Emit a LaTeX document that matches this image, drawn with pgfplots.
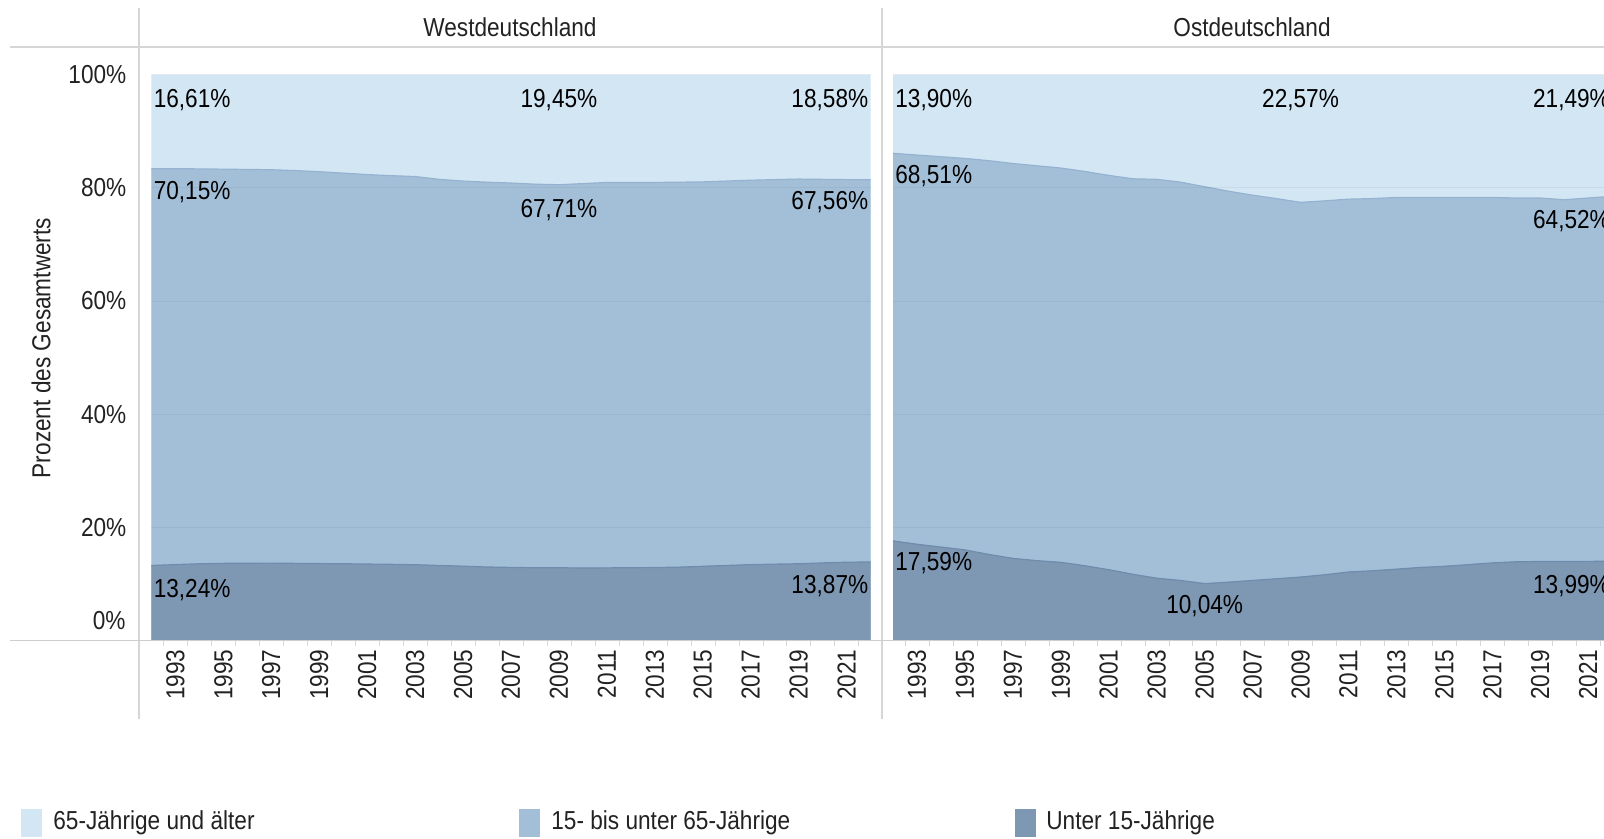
\documentclass[border=0pt]{standalone}
\usepackage{fontspec}
\setmainfont{Liberation Sans}[FakeStretch=0.87]
\usepackage{pgfplots}
\usepackage{pgfplotstable}
\pgfplotsset{compat=1.18}

\definecolor{alt}{HTML}{D3E6F4}
\definecolor{mitte}{HTML}{A3BFD8}
\definecolor{jung}{HTML}{7E97B2}
\definecolor{mitteline}{HTML}{95B3D0}
\definecolor{jungline}{HTML}{6F8CAD}
\definecolor{txt}{HTML}{222222}
\definecolor{rule}{HTML}{D6D6D6}

\newcommand{\lbl}{\fontsize{13}{15}\selectfont}

% Anteile in Prozent: U = unter 15, M = 15 bis unter 65, O = 65 und aelter
\pgfplotstableread{
year U M O
1992 13.24 70.15 16.61
1993 13.40 69.98 16.62
1994 13.55 69.80 16.65
1995 13.62 69.68 16.70
1996 13.65 69.60 16.75
1997 13.66 69.54 16.80
1998 13.62 69.43 16.95
1999 13.58 69.27 17.15
2000 13.55 69.05 17.40
2001 13.50 68.85 17.65
2002 13.45 68.70 17.85
2003 13.38 68.62 18.00
2004 13.25 68.25 18.50
2005 13.12 68.08 18.80
2006 12.98 68.02 19.00
2007 12.90 67.95 19.15
2008 12.85 67.80 19.35
2009 12.84 67.71 19.45
2010 12.80 67.95 19.25
2011 12.82 68.13 19.05
2012 12.85 68.10 19.05
2013 12.88 68.07 19.05
2014 12.95 68.05 19.00
2015 13.10 67.95 18.95
2016 13.25 67.95 18.80
2017 13.40 67.95 18.65
2018 13.48 67.97 18.55
2019 13.55 68.00 18.45
2020 13.70 67.80 18.50
2021 13.82 67.63 18.55
2022 13.87 67.55 18.58
}\west

\pgfplotstableread{
year U M O
1992 17.59 68.51 13.90
1993 17.00 68.80 14.20
1994 16.50 69.00 14.50
1995 16.00 69.20 14.80
1996 15.20 69.60 15.20
1997 14.50 69.80 15.70
1998 14.10 69.80 16.10
1999 13.80 69.70 16.50
2000 13.20 69.70 17.10
2001 12.50 69.70 17.80
2002 11.70 69.90 18.40
2003 11.00 70.50 18.50
2004 10.60 70.40 19.00
2005 10.04 70.16 19.80
2006 10.30 69.10 20.60
2007 10.60 68.10 21.30
2008 10.90 67.20 21.90
2009 11.20 66.23 22.57
2010 11.60 66.10 22.30
2011 12.10 65.90 22.00
2012 12.30 65.80 21.90
2013 12.60 65.70 21.70
2014 12.90 65.40 21.70
2015 13.10 65.20 21.70
2016 13.40 64.90 21.70
2017 13.70 64.60 21.70
2018 13.90 64.30 21.80
2019 13.95 64.25 21.80
2020 13.95 63.95 22.10
2021 13.97 64.23 21.80
2022 13.99 64.52 21.49
}\ost

\pgfplotsset{panel/.style={
  scale only axis, width=359.6pt, height=282.85pt,
  xmin=1992, xmax=2022, ymin=0, ymax=100,
  axis line style={draw=none},
  xtick={1993,1995,...,2021},
  minor xtick={1992.5,1993.5,...,2021.5},
  xtick pos=bottom, ytick pos=left,
  tick align=outside,
  major tick length=0pt, minor tick length=3pt,
  minor tick style={rule},
  ytick={20,40,60,80,100},
  ymajorgrids, major grid style={black, opacity=0.05},
  axis on top,
  /pgf/number format/assume math mode=true,
  /pgf/number format/1000 sep={},
  xticklabel style={rotate=90, anchor=east, font=\lbl, text=txt},
  yticklabel style={font=\lbl, text=txt, xshift=-8pt},
  clip=false,
  every node/.append style={font=\lbl, text=txt},
}}

\begin{document}
\lbl
\begin{tikzpicture}
% Rahmenlinien
\draw[rule, line width=1.2pt] (5pt,-23.5pt) -- (802pt,-23.5pt);
\draw[rule, line width=0.7pt] (69.5pt,-4pt) -- (69.5pt,-359.5pt);
\draw[rule, line width=0.7pt] (441pt,-4pt) -- (441pt,-359.5pt);

\begin{axis}[panel, at={(75.7pt,-320.2pt)}, anchor=south west,
  yticklabels={20\%,40\%,60\%,80\%,100\%}]
\addplot[fill=alt, draw=none] table[x=year, y expr=\thisrow{U}+\thisrow{M}+\thisrow{O}] {\west} \closedcycle;
\addplot[fill=mitte, draw=none] table[x=year, y expr=\thisrow{U}+\thisrow{M}] {\west} \closedcycle;
\addplot[fill=jung, draw=none] table[x=year, y=U] {\west} \closedcycle;
\addplot[mitteline, line width=0.6pt] table[x=year, y expr=\thisrow{U}+\thisrow{M}] {\west};
\addplot[jungline, line width=0.6pt] table[x=year, y=U] {\west};
\node[anchor=west, inner sep=1pt] at (axis cs:1992,95.5) {16,61\%};
\node[inner sep=1pt] at (axis cs:2009,95.5) {19,45\%};
\node[anchor=east, inner sep=1pt] at (axis cs:2022,95.5) {18,58\%};
\node[anchor=west, inner sep=1pt] at (axis cs:1992,79.3) {70,15\%};
\node[inner sep=1pt] at (axis cs:2009,76.1) {67,71\%};
\node[anchor=east, inner sep=1pt] at (axis cs:2022,77.4) {67,56\%};
\node[anchor=west, inner sep=1pt] at (axis cs:1992,8.9) {13,24\%};
\node[anchor=east, inner sep=1pt] at (axis cs:2022,9.6) {13,87\%};
\end{axis}

\begin{axis}[panel, at={(446.5pt,-320.2pt)}, anchor=south west,
  yticklabels={}]
\addplot[fill=alt, draw=none] table[x=year, y expr=\thisrow{U}+\thisrow{M}+\thisrow{O}] {\ost} \closedcycle;
\addplot[fill=mitte, draw=none] table[x=year, y expr=\thisrow{U}+\thisrow{M}] {\ost} \closedcycle;
\addplot[fill=jung, draw=none] table[x=year, y=U] {\ost} \closedcycle;
\addplot[mitteline, line width=0.6pt] table[x=year, y expr=\thisrow{U}+\thisrow{M}] {\ost};
\addplot[jungline, line width=0.6pt] table[x=year, y=U] {\ost};
\node[anchor=west, inner sep=1pt] at (axis cs:1992,95.5) {13,90\%};
\node[inner sep=1pt] at (axis cs:2009,95.5) {22,57\%};
\node[anchor=east, inner sep=1pt] at (axis cs:2022,95.5) {21,49\%};
\node[anchor=west, inner sep=1pt] at (axis cs:1992,82.1) {68,51\%};
\node[anchor=east, inner sep=1pt] at (axis cs:2022,74.1) {64,52\%};
\node[anchor=west, inner sep=1pt] at (axis cs:1992,13.75) {17,59\%};
\node[inner sep=1pt] at (axis cs:2005,6.0) {10,04\%};
\node[anchor=east, inner sep=1pt] at (axis cs:2022,9.6) {13,99\%};
\end{axis}

% Nulllinie und Beschriftungen
\draw[rule!120, line width=0.8pt] (5pt,-320.2pt) -- (802pt,-320.2pt);
\node[anchor=east, text=txt, inner sep=0pt] at (63pt,-310.5pt) {0\%};
\node[text=txt] at (255pt,-13.8pt) {Westdeutschland};
\node[text=txt] at (626pt,-13.8pt) {Ostdeutschland};
\node[text=txt, rotate=90] at (20.5pt,-174pt) {Prozent des Gesamtwerts};

% Legende
\fill[alt] (10.25pt,-404.5pt) rectangle (21pt,-418.5pt);
\node[anchor=west, text=txt, inner sep=0pt] at (26.5pt,-411.5pt) {65-Jährige und älter};
\fill[mitte] (259.5pt,-404.5pt) rectangle (270pt,-418.5pt);
\node[anchor=west, text=txt, inner sep=0pt] at (275.5pt,-411.5pt) {15- bis unter 65-Jährige};
\fill[jung] (507.5pt,-404.5pt) rectangle (518pt,-418.5pt);
\node[anchor=west, text=txt, inner sep=0pt] at (523pt,-411.5pt) {Unter 15-Jährige};

\pgfresetboundingbox
\path[use as bounding box] (0pt,0pt) rectangle (802pt,-419.5pt);
\end{tikzpicture}
\end{document}
